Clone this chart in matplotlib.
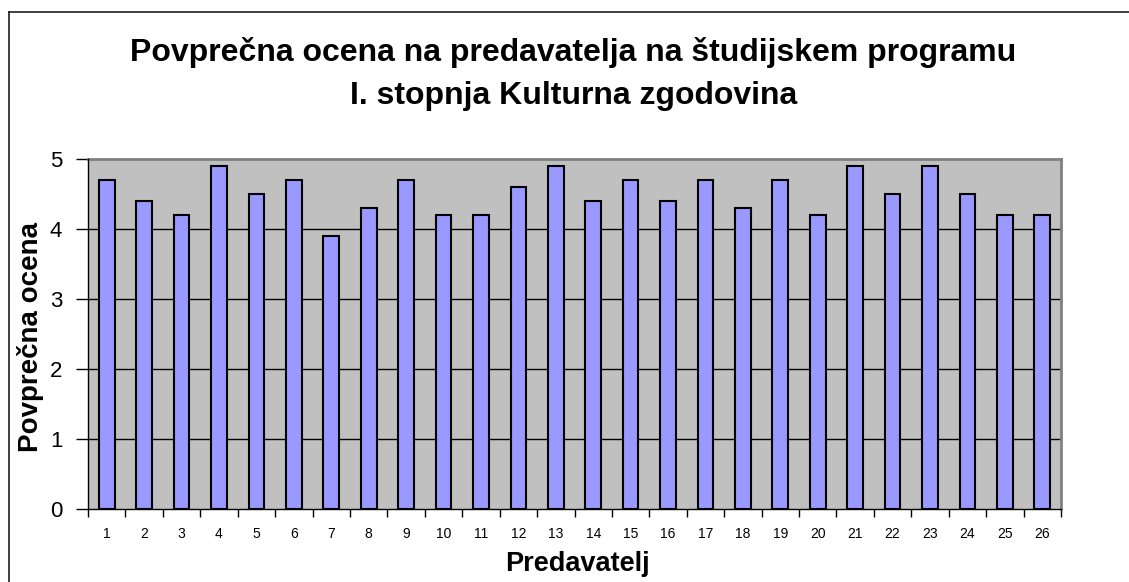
import matplotlib
matplotlib.use("Agg")
import matplotlib.pyplot as plt
from matplotlib.lines import Line2D
from matplotlib.ticker import FixedLocator

plt.rcParams['font.family'] = ['Liberation Sans', 'DejaVu Sans']

categories = [str(i) for i in range(1, 27)]
values = [4.7, 4.4, 4.2, 4.9, 4.5, 4.7, 3.9, 4.3, 4.7, 4.2, 4.2, 4.6, 4.9,
          4.4, 4.7, 4.4, 4.7, 4.3, 4.7, 4.2, 4.9, 4.5, 4.9, 4.5, 4.2, 4.2]
yticks = [0, 1, 2, 3, 4, 5]
title_lines = ["Povprečna ocena na predavatelja na študijskem programu",
               "I. stopnja Kulturna zgodovina"]
xlabel = "Predavatelj"
ylabel = "Povprečna ocena"

W, H = 1129, 582
fig = plt.figure(figsize=(W / 100, H / 100), dpi=100)
fig.patch.set_facecolor('white')

L, R, T, B = 88, 1061, 159, 509
ax = fig.add_axes([L / W, 1 - B / H, (R - L) / W, (B - T) / H])
ax.set_facecolor('#C0C0C0')

x = list(range(len(categories)))
ax.bar(x, values, width=0.42, color='#9999FF', edgecolor='black', linewidth=1.5, zorder=3)

ax.set_xlim(-0.5, len(categories) - 0.5)
ax.set_ylim(0, 5)
ax.set_yticks(yticks)
ax.set_yticklabels([str(v) for v in yticks], fontsize=16)
ax.set_xticks(x)
ax.set_xticklabels(categories, fontsize=10)
ax.xaxis.set_minor_locator(FixedLocator([i - 0.5 for i in range(len(categories) + 1)]))
ax.tick_params(axis='x', which='major', length=0, pad=13)
ax.tick_params(axis='x', which='minor', length=6, width=1, direction='out', color='black')
ax.tick_params(axis='y', which='major', length=9, width=1, direction='out', pad=9.5, color='black')

for v in yticks[1:-1]:
    ax.axhline(v, color='black', linewidth=1, zorder=1)

for s in ['left', 'bottom']:
    ax.spines[s].set_color('black')
    ax.spines[s].set_linewidth(1)
    ax.spines[s].set_zorder(4)
for s in ['top', 'right']:
    ax.spines[s].set_color('#808080')
    ax.spines[s].set_linewidth(2)

for line, base in zip(title_lines, [61, 104]):
    fig.text(573.5 / W, 1 - base / H, line, ha='center', va='baseline', fontsize=23,
             fontweight='bold')
fig.text(577 / W, 1 - 571 / H, xlabel, ha='center', va='baseline', fontsize=19.5, fontweight='bold')
fig.text(31 / W, 1 - 337 / H, ylabel, ha='center', va='center', rotation=90,
         fontsize=20, fontweight='bold')

# chart-area border (left and top edges visible)
fig.add_artist(Line2D([9 / W, 9 / W], [0, 1 - 12 / H], transform=fig.transFigure,
                      color='#202020', linewidth=1.2))
fig.add_artist(Line2D([9 / W, 1], [1 - 12 / H, 1 - 12 / H], transform=fig.transFigure,
                      color='#202020', linewidth=1.2))

fig.savefig('out.png', dpi=100)
